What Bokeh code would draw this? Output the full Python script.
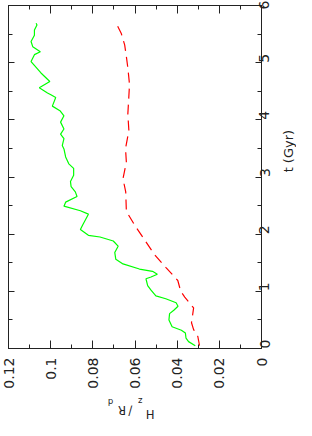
import math
from bokeh.plotting import figure
from bokeh.layouts import column, row
from bokeh.models import Range1d, LinearAxis, FixedTicker
from bokeh.core.properties import value
from bokeh.embed import file_html
from bokeh.resources import INLINE

# ---- data ----
t_green = [0.05, 0.12, 0.18, 0.27, 0.32, 0.38, 0.50, 0.61, 0.67, 0.74,
           0.80, 0.87, 0.92, 1.02, 1.10, 1.22, 1.25, 1.30, 1.35, 1.39,
           1.48, 1.56, 1.68, 1.79, 1.88, 1.95, 1.98, 2.08, 2.17, 2.35,
           2.41, 2.49, 2.56, 2.66, 2.74, 2.83, 2.92, 3.03, 3.15, 3.23,
           3.35, 3.49, 3.55, 3.67, 3.75, 3.84, 3.96, 4.07, 4.16, 4.24,
           4.39, 4.44, 4.47, 4.56, 4.67, 4.82, 5.02, 5.14, 5.19, 5.28,
           5.37, 5.48, 5.57, 5.66, 5.69]
h_green = [0.0314, 0.0346, 0.0358, 0.0361, 0.0380, 0.0424, 0.0439, 0.0436, 0.0416, 0.0396,
           0.0405, 0.0454, 0.0501, 0.0524, 0.0540, 0.0548, 0.0524, 0.0494, 0.0517, 0.0579,
           0.0657, 0.0691, 0.0696, 0.0680, 0.0703, 0.0766, 0.0821, 0.0859, 0.0847, 0.0821,
           0.0859, 0.0937, 0.0929, 0.0875, 0.0883, 0.0903, 0.0906, 0.0891, 0.0891, 0.0914,
           0.0929, 0.0937, 0.0945, 0.0937, 0.0953, 0.0937, 0.0953, 0.0937, 0.0956, 0.0992,
           0.0976, 0.0999, 0.1015, 0.1054, 0.1004, 0.1046, 0.1093, 0.1077, 0.1049, 0.1085,
           0.1093, 0.1077, 0.1077, 0.1065, 0.1069]

t_red = [0.05, 0.21, 0.33, 0.45, 0.71, 0.90, 1.00, 1.19, 1.42, 1.65,
         1.91, 2.16, 2.40, 2.74, 2.97, 3.26, 3.50, 3.81, 4.10, 4.42,
         4.62, 4.91, 5.11, 5.31, 5.51, 5.68]
h_red = [0.0294, 0.0302, 0.0322, 0.0332, 0.0322, 0.0364, 0.0383, 0.0397, 0.0454, 0.0509,
         0.0556, 0.0602, 0.0641, 0.0644, 0.0657, 0.0641, 0.0645, 0.0629, 0.0634, 0.0629,
         0.0626, 0.0634, 0.0641, 0.0649, 0.0665, 0.0688]

h_ticks = [0, 0.02, 0.04, 0.06, 0.08, 0.1, 0.12]
h_tick_labels = ["0", "0.02", "0.04", "0.06", "0.08", "0.1", "0.12"]
h_minor = [0.01, 0.03, 0.05, 0.07, 0.09, 0.11]
t_ticks = [0, 1, 2, 3, 4, 5, 6]
t_tick_labels = ["0", "1", "2", "3", "4", "5", "6"]
t_minor = [0.5, 1.5, 2.5, 3.5, 4.5, 5.5]

t_title = "t (Gyr)"
h_title_parts = ["H", "z", "/", "R", "d"]      # H_z / R_d

H_RANGE = (0.12, 0.0)
T_RANGE = (0.0, 6.0)

# ---- geometry (whole content must fit 296 x 420) ----
FONT = "DejaVu Sans"
AX = "#222222"
LB, TB, RB, BB = 8, 5, 19, 42   # borders of the main plot
FRAME_W, FRAME_H = 253, 344
MAIN_W, MAIN_H = LB + FRAME_W + RB, TB + FRAME_H + BB
SIDE_W = 296 - MAIN_W
BOT_H = 420 - MAIN_H

p = figure(width=MAIN_W, height=MAIN_H,
           x_range=Range1d(*H_RANGE), y_range=Range1d(*T_RANGE),
           x_axis_location=None, y_axis_location=None,
           output_backend="svg", toolbar_location=None,
           min_border_left=LB, min_border_top=TB,
           min_border_right=RB, min_border_bottom=BB)
p.grid.visible = False
p.outline_line_color = AX
p.outline_line_width = 1
p.background_fill_color = "white"
p.border_fill_color = "white"


def make_axis(ticks, minor, labels, show, tick_in, minor_in):
    ax = LinearAxis(ticker=FixedTicker(ticks=ticks, minor_ticks=minor))
    ax.major_tick_in = tick_in
    ax.major_tick_out = 0
    ax.minor_tick_in = minor_in
    ax.minor_tick_out = 0
    ax.major_tick_line_color = AX
    ax.minor_tick_line_color = AX
    ax.axis_line_color = AX
    if show:
        ax.major_label_overrides = dict(zip(ticks, labels))
        ax.major_label_orientation = math.pi / 2
        ax.major_label_text_font = FONT
        ax.major_label_text_font_size = "14px"
        ax.major_label_text_color = "#222222"
    else:
        ax.major_label_overrides = {tk: "" for tk in ticks}
        ax.major_label_text_font_size = "1px"
        ax.major_label_standoff = 0
    return ax


bottom = make_axis(h_ticks, h_minor, h_tick_labels, True, 8, 4)
bottom.major_label_standoff = 9
top = make_axis(h_ticks, h_minor, h_tick_labels, False, 8, 4)
right = make_axis(t_ticks, t_minor, t_tick_labels, True, 6, 4)
right.major_label_standoff = 3
left = make_axis(t_ticks, t_minor, t_tick_labels, False, 6, 4)
p.add_layout(bottom, "below")
p.add_layout(top, "above")
p.add_layout(right, "right")
p.add_layout(left, "left")

p.line(h_green, t_green, color="#00ff00", line_width=1.2)
p.line(h_red, t_red, color="#ff0000", line_width=1.2, line_dash="10 6")


def text_panel(w, h):
    f = figure(width=w, height=h, x_range=Range1d(0, w), y_range=Range1d(0, h),
               x_axis_location=None, y_axis_location=None,
               output_backend="svg", toolbar_location=None,
               min_border=0)
    f.grid.visible = False
    f.outline_line_color = None
    f.background_fill_color = "white"
    f.border_fill_color = "white"
    return f


# right-hand axis title, read bottom to top
pr = text_panel(SIDE_W, MAIN_H)
pr.text(x=[SIDE_W / 2], y=[MAIN_H - 166], text=[t_title], angle=math.pi / 2,
        text_align="center", text_baseline="middle",
        text_font=value(FONT), text_font_size=value("13px"), text_color="#222222")

# bottom axis title H_z/R_d, upside down (rotated 180 degrees)
pb = text_panel(MAIN_W + SIDE_W, BOT_H)
pb.text(x=[149.8, 139.7, 129.9, 121.4, 110.1], y=[7, 19.5, 10, 10.3, 19],
        text=h_title_parts, angle=math.pi,
        text_font_size=["11.5px", "8.5px", "11.5px", "11.5px", "8.5px"],
        text_align="center", text_baseline="middle",
        text_font=value(FONT), text_color="#222222")

layout = column(row(p, pr), pb)

open("out.html", "w").write(file_html(layout, INLINE))
